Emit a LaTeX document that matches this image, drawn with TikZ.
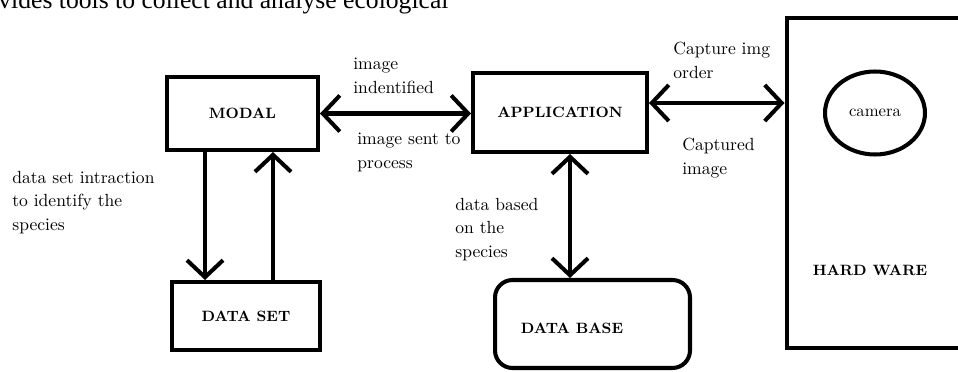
\documentclass[tikz,border=0pt]{standalone}
\usepackage{fontspec}
\newfontfamily\bodyserif{Liberation Serif}
\usepackage{tikz}
\usetikzlibrary{arrows.meta}
\usetikzlibrary{shapes.geometric}
\tikzset{
  blk/.style={draw, line width=2.3pt, inner sep=0pt, font=\fontsize{8.5}{10}\selectfont\bfseries},
  blkname/.style={inner sep=0pt, font=\fontsize{8.5}{10}\selectfont\bfseries},
  lbl/.style={anchor=north west, inner sep=0pt, align=left, font=\fontsize{10}{13.3}\selectfont},
  link/.style={line width=2.3pt, {Straight Barb[length=0.34cm,width=0.72cm]}-{Straight Barb[length=0.34cm,width=0.72cm]}},
  oneway/.style={line width=2.3pt, -{Straight Barb[length=0.34cm,width=0.72cm]}}
}

\begin{document}
\begin{tikzpicture}[x=0.02cm, y=-0.02cm]
    \useasboundingbox (0,0) rectangle (958,372);
    \clip (0,0) rectangle (958,372);
    \node[anchor=base west, inner sep=0pt, font=\bodyserif\fontsize{14.6}{17}\selectfont] (topline) at (-2,9) {vides tools to collect and analyse ecological};

    \node[blk, minimum width=3.02cm, minimum height=1.46cm] (modal) at (242.5,113.5) {MODAL};
    \node[blk, minimum width=3.48cm, minimum height=1.58cm] (app) at (560,112.5) {APPLICATION};
    \node[blk, minimum width=2.96cm, minimum height=1.36cm] (dataset) at (246,316) {DATA SET};
    \node[blk, rounded corners=0.35cm, minimum width=3.9cm, minimum height=1.76cm] (database) at (592.5,324) {};
    \node[blkname] (dbname) at (572,328) {DATA BASE};
    \node[blk, minimum width=4.46cm, minimum height=6.6cm] (hw) at (898,183) {};
    \node[blkname] (hwname) at (870,270) {HARD WARE};
    \node[draw, ellipse, line width=2.3pt, inner sep=0pt, minimum width=2cm, minimum height=1.66cm, font=\fontsize{9.5}{11}\selectfont] (camera) at (875,113) {camera};

    \draw[link] (modal.east) -- (modal.east -| app.west);
    \draw[link] ([yshift=0.19cm]app.east) -- ([yshift=0.19cm]app.east -| hw.west);
    \draw[oneway] ([xshift=-0.75cm]modal.south) -- ([xshift=-0.75cm]modal.south |- dataset.north);
    \draw[oneway] ([xshift=0.54cm]dataset.north) -- ([xshift=0.54cm]dataset.north |- modal.south);
    \draw[link] ([xshift=0.2cm]app.south) -- ([xshift=0.2cm]app.south |- database.north);

    \node[lbl] (identified) at (353,58) {image\\indentified};
    \node[lbl] (sent) at (357,133) {image sent to\\process};
    \node[lbl] (order) at (673,42) {Capture img\\order};
    \node[lbl] (captured) at (682,138) {Captured\\image};
    \node[lbl] (interaction) at (12,171) {data set intraction\\to identify the\\species};
    \node[lbl] (based) at (455,198) {data based\\on the\\species};
\end{tikzpicture}
\end{document}
